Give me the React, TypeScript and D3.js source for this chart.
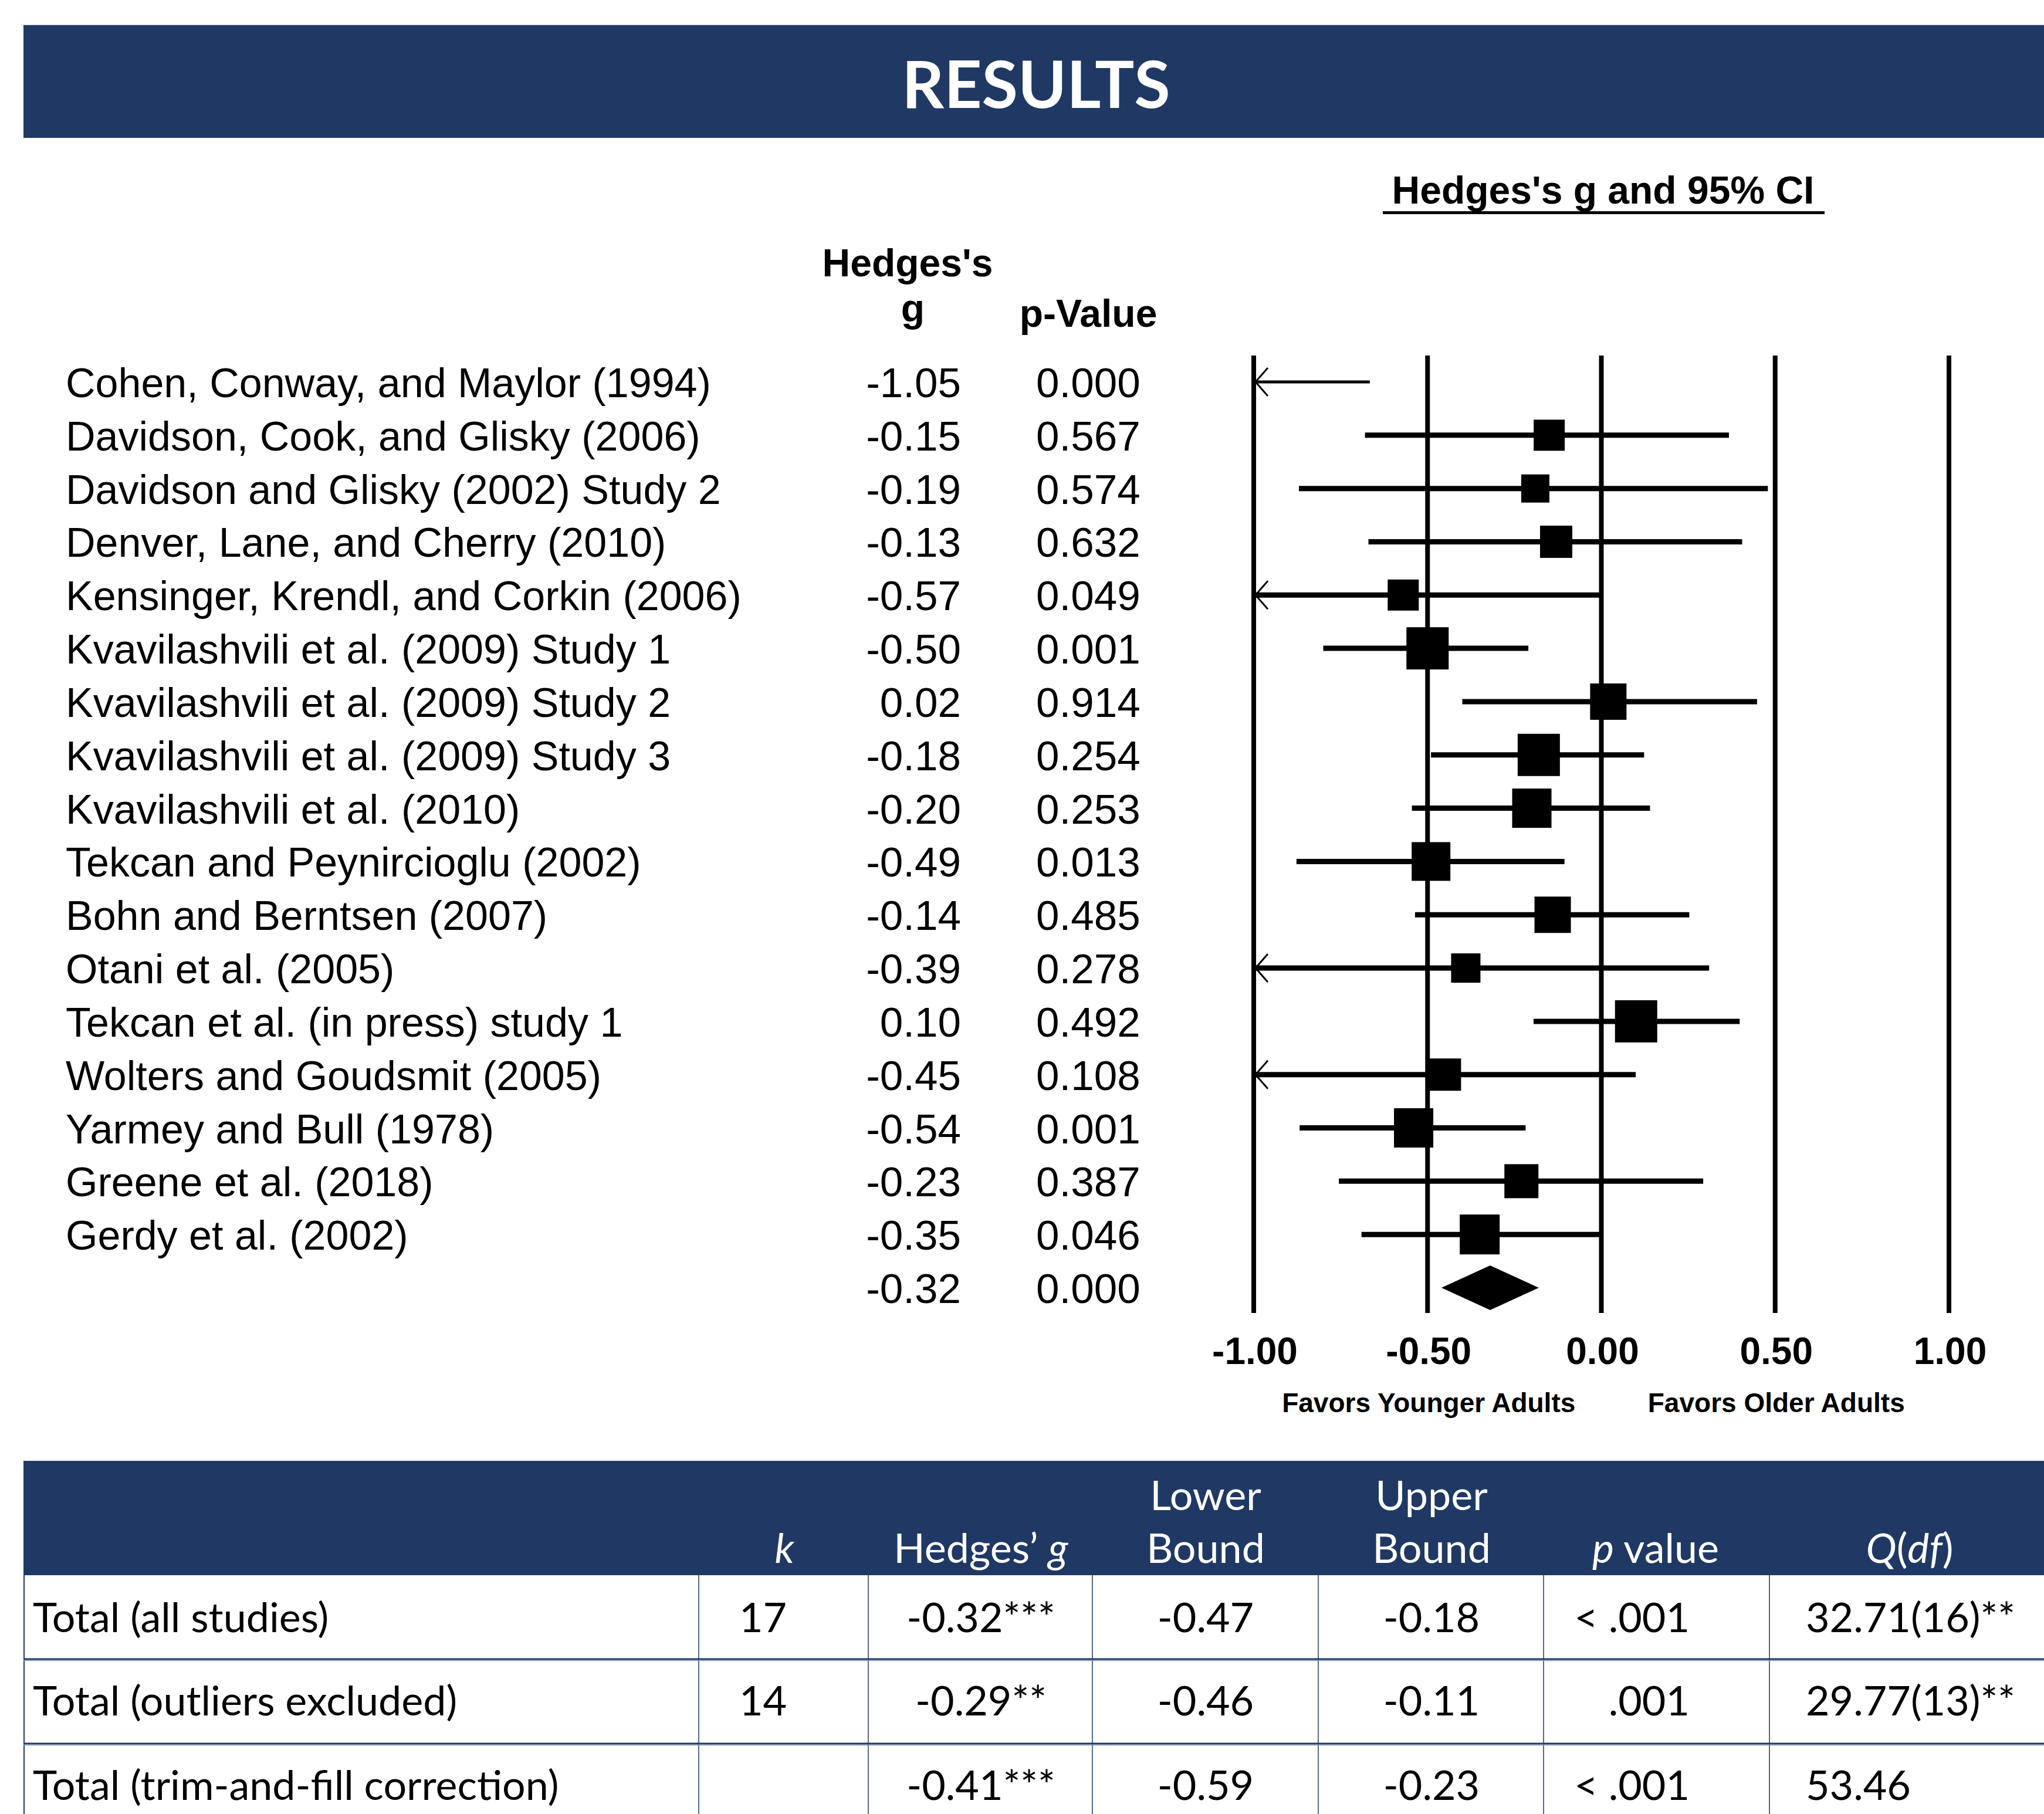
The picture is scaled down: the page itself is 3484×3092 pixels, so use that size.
import React from 'react';
import * as d3 from 'd3';

// ---------- data ----------
const studies = [
  'Cohen, Conway, and Maylor (1994)',
  'Davidson, Cook, and Glisky (2006)',
  'Davidson and  Glisky (2002) Study 2',
  'Denver, Lane, and Cherry (2010)',
  'Kensinger, Krendl, and Corkin (2006)',
  'Kvavilashvili et al. (2009) Study 1',
  'Kvavilashvili et al. (2009) Study 2',
  'Kvavilashvili et al. (2009) Study 3',
  'Kvavilashvili et al. (2010)',
  'Tekcan and Peynircioglu (2002)',
  'Bohn and Berntsen (2007)',
  'Otani et al. (2005)',
  'Tekcan et al. (in press) study 1',
  'Wolters and Goudsmit (2005)',
  'Yarmey and Bull (1978)',
  'Greene et al. (2018)',
  'Gerdy et al. (2002)',
];
const hedgesG = [-1.05, -0.15, -0.19, -0.13, -0.57, -0.5, 0.02, -0.18, -0.2, -0.49, -0.14, -0.39, 0.1, -0.45, -0.54, -0.23, -0.35];
const pValues = [0.0, 0.567, 0.574, 0.632, 0.049, 0.001, 0.914, 0.254, 0.253, 0.013, 0.485, 0.278, 0.492, 0.108, 0.001, 0.387, 0.046];
const ciLower = [-1.43, -0.68, -0.87, -0.67, -1.14, -0.8, -0.4, -0.49, -0.545, -0.877, -0.536, -1.09, -0.195, -1.01, -0.868, -0.755, -0.69];
const ciUpper = [-0.666, 0.367, 0.479, 0.405, -0.005, -0.21, 0.448, 0.123, 0.14, -0.106, 0.253, 0.31, 0.398, 0.099, -0.218, 0.293, -0.006];
const weights = [4.0, 5.3, 4.8, 5.5, 5.3, 7.2, 6.2, 7.2, 6.7, 6.6, 6.2, 5.0, 7.2, 5.5, 6.7, 5.8, 6.8];
const summaryG = -0.32;
const summaryP = 0.0;
const summaryLower = -0.46;
const summaryUpper = -0.18;
const axisTicks = [-1, -0.5, 0, 0.5, 1];
const favorLabels = ['Favors Younger Adults', 'Favors Older Adults'];
const favorAt = [-0.5, 0.5];

const tableRowLabels = ['Total (all studies)', 'Total (outliers excluded)', 'Total (trim-and-fill correction)'];
const tableK = ['17', '14', ''];
const tableG = ['-0.32***', '-0.29**', '-0.41***'];
const tableLower = ['-0.47', '-0.46', '-0.59'];
const tableUpper = ['-0.18', '-0.11', '-0.23'];
const tableP = ['< .001', '.001', '< .001'];
const tableQ = ['32.71(16)**', '29.77(13)**', '53.46'];

// ---------- style ----------
const NAVY = '#203864';
const SANS = '"Liberation Sans", Arial, sans-serif';
const CAL = 'Lato, "Open Sans", sans-serif';

export default function App() {
  const W = 3484;
  const H = 3092;
  const x = d3.scaleLinear().domain([-1, 1]).range([2137, 3322]);
  const y = d3.scaleLinear().domain([0, 17]).range([651, 2195]);
  const size = d3.scaleLinear().domain([0, 10]).range([0, 100]);
  const lineTop = 606;
  const lineBottom = 2238;
  const baseOff = 26;

  const diamond = d3.line<[number, number]>()([
    [x(summaryLower), y(17)],
    [x(summaryG), y(17) - 38],
    [x(summaryUpper), y(17)],
    [x(summaryG), y(17) + 38],
    [x(summaryLower), y(17)],
  ]) as string;

  // table geometry
  const colLines = [1191, 1480, 1862, 2247, 2631, 3016];
  const tHeadTop = 2490;
  const tHeadBot = 2685;
  const rowLines = [2828, 2972];
  const rowBase = [2782, 2924, 3068];
  const tableFont = 70;

  return (
    <svg
      width={W}
      height={H}
      viewBox={`0 0 ${W} ${H}`}
      style={{ position: 'absolute', left: 0, top: 0, background: '#fff' }}
    >
      <rect x={0} y={0} width={W} height={H} fill="#fff" />
      {/* RESULTS banner */}
      <rect x={40} y={42} width={W - 40} height={2} fill="#bfbfbf" />
      <rect x={40} y={43} width={W - 40} height={192} fill={NAVY} />
      <text x={1766} y={184} fill="#fff" fontFamily={CAL} fontWeight={700} fontSize={112} textAnchor="middle">
        RESULTS
      </text>

      {/* forest headers */}
      <text x={x(0) + 3} y={347} fontFamily={SANS} fontWeight={700} fontSize={66} textAnchor="middle">
        Hedges's g and 95%  CI
      </text>
      <rect x={2357} y={360} width={753} height={5} fill="#000" />
      <text x={1547} y={471} fontFamily={SANS} fontWeight={700} fontSize={66} textAnchor="middle">
        Hedges's
      </text>
      <text x={1556} y={548} fontFamily={SANS} fontWeight={700} fontSize={66} textAnchor="middle">
        g
      </text>
      <text x={1855} y={557} fontFamily={SANS} fontWeight={700} fontSize={66} textAnchor="middle">
        p-Value
      </text>

      {/* gridlines */}
      {axisTicks.map((t) => (
        <line key={`g${t}`} x1={x(t)} x2={x(t)} y1={lineTop} y2={lineBottom} stroke="#000" strokeWidth={8} />
      ))}

      {/* rows */}
      {studies.map((s, i) => {
        const yy = y(i);
        const lo = ciLower[i];
        const hi = ciUpper[i];
        const clipped = lo < -1;
        const offAxis = hedgesG[i] < -1;
        const x1 = x(Math.max(lo, -1));
        const x2 = x(Math.min(hi, 1));
        const sz = size(weights[i]);
        return (
          <g key={s}>
            <text x={112} y={yy + baseOff} fontFamily={SANS} fontSize={70}>
              {s}
            </text>
            <text x={1638} y={yy + baseOff} fontFamily={SANS} fontSize={71} textAnchor="end">
              {hedgesG[i].toFixed(2)}
            </text>
            <text x={1766} y={yy + baseOff} fontFamily={SANS} fontSize={71}>
              {pValues[i].toFixed(3)}
            </text>
            <line x1={x1} x2={x2} y1={yy} y2={yy} stroke="#000" strokeWidth={offAxis ? 5 : 9} />
            {clipped && (
              <path
                d={`M${x(-1) + 24},${yy - 24} L${x(-1) + 3},${yy} L${x(-1) + 24},${yy + 24}`}
                fill="none"
                stroke="#000"
                strokeWidth={3}
              />
            )}
            {!offAxis && (
              <rect x={x(hedgesG[i]) - sz / 2} y={yy - sz / 2} width={sz} height={sz} fill="#000" />
            )}
          </g>
        );
      })}

      {/* summary */}
      <text x={1638} y={y(17) + baseOff} fontFamily={SANS} fontSize={71} textAnchor="end">
        {summaryG.toFixed(2)}
      </text>
      <text x={1766} y={y(17) + baseOff} fontFamily={SANS} fontSize={71}>
        {summaryP.toFixed(3)}
      </text>
      <path d={diamond} fill="#000" />

      {/* axis labels */}
      {axisTicks.map((t) => (
        <text key={`t${t}`} x={x(t) + 2} y={2325} fontFamily={SANS} fontWeight={700} fontSize={64} textAnchor="middle">
          {t.toFixed(2)}
        </text>
      ))}
      {favorLabels.map((f, i) => (
        <text key={f} x={x(favorAt[i]) + 2} y={2407} fontFamily={SANS} fontWeight={700} fontSize={46} textAnchor="middle">
          {f}
        </text>
      ))}

      {/* table */}
      <rect x={40} y={tHeadTop} width={W - 40} height={tHeadBot - tHeadTop} fill={NAVY} />
      <g fontFamily={CAL} fontSize={tableFont} fill="#fff" textAnchor="middle">
        <text x={1337} y={2664} fontStyle="italic">k</text>
        <text x={1672} y={2664}>
          Hedges’ <tspan fontStyle="italic">g</tspan>
        </text>
        <text x={2055} y={2574}>Lower</text>
        <text x={2055} y={2664}>Bound</text>
        <text x={2440} y={2574}>Upper</text>
        <text x={2440} y={2664}>Bound</text>
        <text x={2822} y={2664}>
          <tspan fontStyle="italic">p</tspan> value
        </text>
        <text x={3255} y={2664}>
          <tspan fontStyle="italic">Q</tspan>(<tspan fontStyle="italic">df</tspan>)
        </text>
      </g>
      <line x1={41} x2={41} y1={tHeadBot} y2={H} stroke={NAVY} strokeWidth={2} />
      {colLines.map((cx) => (
        <line key={`c${cx}`} x1={cx} x2={cx} y1={tHeadBot} y2={H} stroke={NAVY} strokeWidth={1.5} />
      ))}
      {rowLines.map((ry) => (
        <g key={`r${ry}`}>
          <line x1={40} x2={W} y1={ry} y2={ry} stroke={NAVY} strokeWidth={3} />
          <line x1={40} x2={W} y1={ry + 2.5} y2={ry + 2.5} stroke="#8a9bb8" strokeWidth={1.5} />
        </g>
      ))}
      <g fontFamily={CAL} fontSize={tableFont} fill="#000">
        {tableRowLabels.map((lab, i) => (
          <g key={lab}>
            <text x={56} y={rowBase[i]}>{lab}</text>
            <text x={1260} y={rowBase[i]}>{tableK[i]}</text>
            <text x={1672} y={rowBase[i]} textAnchor="middle">{tableG[i]}</text>
            <text x={2055} y={rowBase[i]} textAnchor="middle">{tableLower[i]}</text>
            <text x={2440} y={rowBase[i]} textAnchor="middle">{tableUpper[i]}</text>
            <text x={2880} y={rowBase[i]} textAnchor="end">{tableP[i]}</text>
            <text x={3078} y={rowBase[i]}>{tableQ[i]}</text>
          </g>
        ))}
      </g>
    </svg>
  );
}
